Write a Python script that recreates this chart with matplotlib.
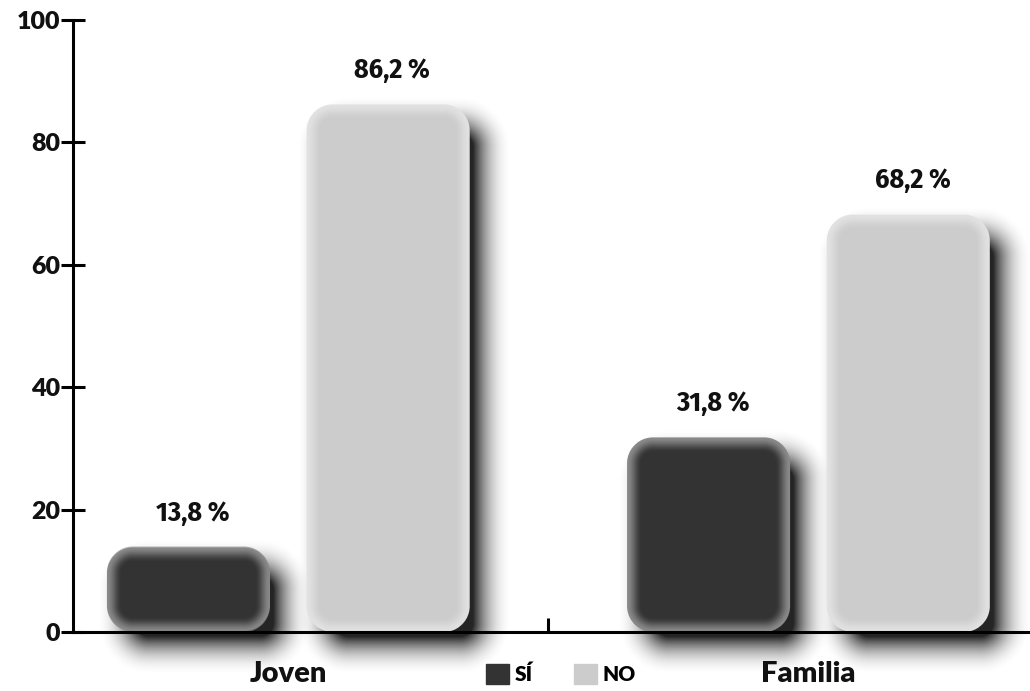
import numpy as np
import matplotlib
matplotlib.use("Agg")
import matplotlib.pyplot as plt
from matplotlib.patches import Patch

# ---------------------------------------------------------------------------
# Data
# ---------------------------------------------------------------------------
categories = ["Joven", "Familia"]
series_names = ["SÍ", "NO"]
si_values = [13.8, 31.8]
no_values = [86.2, 68.2]
y_ticks = [0, 20, 40, 60, 80, 100]

DARK = "#333333"
LIGHT = "#cccccc"
DARK_EDGE = "#8a8a8a"
LIGHT_EDGE = "#e2e2e2"

LABEL_FONT = ["Lato", "DejaVu Sans"]
VALUE_FONT = ["Fira Sans Condensed", "Barlow Condensed", "DejaVu Sans"]

W, H = 1030, 691
fig = plt.figure(figsize=(W / 100, H / 100), dpi=100)
ax = fig.add_axes([73 / W, (H - 632) / H, (W - 73) / W, (632 - 20) / H])
XLIM = (-0.414, 1.426)
ax.set_xlim(*XLIM)
ax.set_ylim(0, 100)
ax.patch.set_visible(False)

bar_w = 0.3135
offset = 0.192


def hex_rgb(c):
    c = c.lstrip("#")
    return np.array([int(c[i:i + 2], 16) / 255 for i in (0, 2, 4)])


def rrect_sdf(px, py, x0, y0, x1, y1, r):
    cx, cy = (x0 + x1) / 2, (y0 + y1) / 2
    hx, hy = (x1 - x0) / 2 - r, (y1 - y0) / 2 - r
    qx = np.abs(px - cx) - hx
    qy = np.abs(py - cy) - hy
    outside = np.hypot(np.maximum(qx, 0), np.maximum(qy, 0))
    inside = np.minimum(np.maximum(qx, qy), 0)
    return outside + inside - r


def draw_bar(xc, val, fill, edge):
    # bar corners in display pixels
    (x0, y0), (x1, y1) = ax.transData.transform(
        [(xc - bar_w / 2, 0), (xc + bar_w / 2, val)])
    r = min(26, (y1 - y0) / 2)
    sdx, sdy, blur = 16, -17, 21
    pad = 60
    gx0, gx1 = x0 - pad, x1 + pad
    gy0, gy1 = y0 - pad - 20, y1 + pad
    xs = np.arange(np.floor(gx0), np.ceil(gx1)) + 0.5
    ys = np.arange(np.floor(gy0), np.ceil(gy1)) + 0.5
    PX, PY = np.meshgrid(xs, ys)
    inv = ax.transData.inverted()
    (ex0, ey0), (ex1, ey1) = inv.transform(
        [(xs[0] - 0.5, ys[0] - 0.5), (xs[-1] + 0.5, ys[-1] + 0.5)])
    extent = (ex0, ex1, ey0, ey1)

    # soft drop shadow
    d = rrect_sdf(PX, PY, x0 + sdx, y0 + sdy, x1 + sdx, y1 + sdy, r)
    t = np.clip((d + blur * 0.6) / (1.9 * blur), 0, 1)
    a = 0.92 * (1 - t) ** 2.2
    img = np.zeros(PX.shape + (4,))
    img[..., :3] = 0.07
    img[..., 3] = a
    ax.imshow(img, extent=extent, origin="lower", aspect="auto",
              interpolation="bilinear", zorder=1, clip_on=False)

    # bar body with inner glow
    d = rrect_sdf(PX, PY, x0, y0, x1, y1, r)
    alpha = np.clip(0.5 - d, 0, 1)
    g = np.clip(-d / 15, 0, 1)
    g = g * g * (3 - 2 * g)
    c0, c1 = hex_rgb(edge), hex_rgb(fill)
    img = np.zeros(PX.shape + (4,))
    img[..., :3] = c0 + (c1 - c0) * g[..., None]
    img[..., 3] = alpha
    ax.imshow(img, extent=extent, origin="lower", aspect="auto",
              interpolation="bilinear", zorder=2, clip_on=False)


for i, cat in enumerate(categories):
    for xc, val, fill, edge in [(i - offset, si_values[i], DARK, DARK_EDGE),
                                (i + offset, no_values[i], LIGHT, LIGHT_EDGE)]:
        draw_bar(xc, val, fill, edge)
        ax.annotate(f"{val:.1f} %".replace(".", ","), (xc + 0.008, val),
                    xytext=(0, 15), textcoords="offset points",
                    ha="center", va="bottom", fontsize=20,
                    fontweight="bold", fontstretch="condensed",
                    family=VALUE_FONT, color="#111111")

ax.set_xlim(*XLIM)
ax.set_ylim(0, 100)

# axes styling
for s in ["top", "right"]:
    ax.spines[s].set_visible(False)
for s in ["left", "bottom"]:
    ax.spines[s].set_linewidth(2.2)
    ax.spines[s].set_color("black")
    ax.spines[s].set_zorder(3)

ax.set_yticks(y_ticks)
ax.set_yticklabels([str(v) for v in y_ticks], fontsize=18, fontweight="heavy",
                   family=LABEL_FONT, color="#111111")
ax.tick_params(axis="y", direction="inout", length=17, width=2.2, pad=1)

ax.set_xticks(range(len(categories)))
ax.set_xticklabels(categories, fontsize=21, fontweight="heavy",
                   family=LABEL_FONT, color="#111111")
ax.tick_params(axis="x", which="major", length=0, pad=21)
ax.set_xticks([0.5], minor=True)
ax.tick_params(axis="x", which="minor", direction="in", length=10, width=2.2)

handles = [Patch(color=DARK), Patch(color=LIGHT)]
fig.legend(handles, series_names, loc="center",
           bbox_to_anchor=(561 / W, 1 - 674 / H), ncol=2, frameon=False,
           handlelength=1.1, handleheight=1.1, handletextpad=0.25,
           columnspacing=2.0, borderpad=0,
           prop={"family": LABEL_FONT, "weight": "heavy", "size": 15})

fig.savefig("out.png", dpi=100, facecolor="white")
